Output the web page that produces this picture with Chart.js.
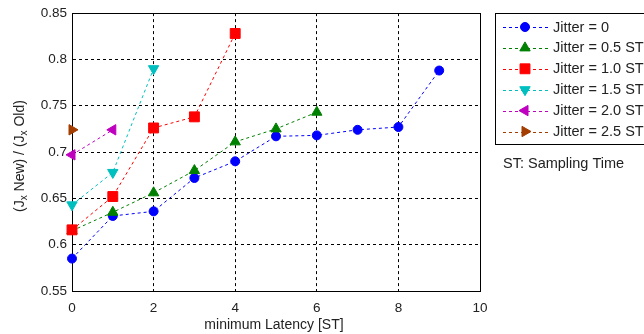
<!DOCTYPE html>
<html>
<head>
<meta charset="utf-8">
<script src="https://cdn.jsdelivr.net/npm/chart.js@4.4.0/dist/chart.umd.min.js"></script>
<style>
  html, body { margin: 0; padding: 0; background: #fff; }
  #wrap { width: 644px; height: 334px; position: relative; }
</style>
</head>
<body>
<div id="wrap"><canvas id="chart"></canvas></div>
<script>
// ---------------- DATA ----------------
const latency = [0, 1, 2, 3, 4, 5, 6, 7, 8, 9];
const jitter0  = [0.585, 0.631, 0.636, 0.672, 0.690, 0.717, 0.718, 0.724, 0.727, 0.788];
const jitter05 = [0.615, 0.635, 0.656, 0.680, 0.711, 0.725, 0.743];
const jitter10 = [0.616, 0.652, 0.726, 0.738, 0.828];
const jitter15 = [0.643, 0.678, 0.790];
const jitter20 = [0.697, 0.724];
const jitter25 = [0.724];
const seriesLabels = ['Jitter = 0', 'Jitter = 0.5 ST', 'Jitter = 1.0 ST', 'Jitter = 1.5 ST', 'Jitter = 2.0 ST', 'Jitter = 2.5 ST'];
const xTicks = [0, 2, 4, 6, 8, 10];
const yTicks = [0.55, 0.6, 0.65, 0.7, 0.75, 0.8, 0.85];
const xTitle = 'minimum Latency [ST]';
const note = 'ST: Sampling Time';

const FONT = '"Liberation Sans", Arial, sans-serif';

// marker / colour per series
const styles = [
  { color: '#0000ff', point: 'circle',   radius: 4.5, rot: 0 },
  { color: '#008000', point: 'triangle', radius: 6,   rot: 0 },
  { color: '#ff0000', point: 'rect',     radius: 7,   rot: 0 },
  { color: '#00bfbf', point: 'triangle', radius: 6,   rot: 180 },
  { color: '#bf00bf', point: 'triangle', radius: 6,   rot: -90 },
  { color: '#a33d00', point: 'triangle', radius: 6,   rot: 90 }
];

const allSeries = [jitter0, jitter05, jitter10, jitter15, jitter20, jitter25];

const datasets = allSeries.map((vals, i) => ({
  label: seriesLabels[i],
  data: vals.map((v, k) => ({ x: latency[k], y: v })),
  borderColor: styles[i].color,
  backgroundColor: styles[i].color,
  borderWidth: 1,
  borderDash: [3, 3],
  pointStyle: styles[i].point,
  pointRadius: styles[i].radius,
  pointRotation: styles[i].rot,
  pointBorderWidth: 1,
  tension: 0,
  clip: false,
  order: allSeries.length - i // later series on top
}));

// ---------------- PLUGINS ----------------
const framePlugin = {
  id: 'frame',
  beforeDatasetsDraw(chart) {
    const { ctx, chartArea: a } = chart;
    ctx.save();
    ctx.strokeStyle = '#000';
    ctx.lineWidth = 1;
    ctx.setLineDash([]);
    ctx.strokeRect(Math.round(a.left) + 0.5, Math.round(a.top) + 0.5,
      Math.round(a.right - a.left), Math.round(a.bottom - a.top));
    ctx.restore();
  },
  afterDraw(chart) {
    const { ctx, chartArea: a } = chart;
    ctx.save();
    // x title
    ctx.fillStyle = '#222';
    ctx.font = '14px ' + FONT;
    ctx.textAlign = 'center';
    ctx.textBaseline = 'middle';
    ctx.fillText(xTitle, (a.left + a.right) / 2 - 2, 325);

    // y title with subscripts, rotated
    const parts = [
      ['(J', 0], ['x', 1], [' New) / (J', 0], ['x', 1], [' Old)', 0]
    ];
    const big = '14px ' + FONT, small = '10px ' + FONT;
    let total = 0;
    parts.forEach(p => { ctx.font = p[1] ? small : big; total += ctx.measureText(p[0]).width; });
    ctx.translate(20, (a.top + a.bottom) / 2 + 4);
    ctx.rotate(-Math.PI / 2);
    ctx.textAlign = 'left';
    ctx.textBaseline = 'middle';
    let x = -total / 2;
    parts.forEach(p => {
      ctx.font = p[1] ? small : big;
      ctx.fillText(p[0], x, p[1] ? 4 : 0);
      x += ctx.measureText(p[0]).width;
    });
    ctx.restore();
  }
};

const legendPlugin = {
  id: 'sideLegend',
  afterDraw(chart) {
    const { ctx } = chart;
    ctx.save();
    ctx.fillStyle = '#fff';
    ctx.fillRect(495.5, 13.5, 160, 131);
    ctx.strokeStyle = '#000';
    ctx.lineWidth = 1;
    ctx.strokeRect(495.5, 13.5, 160, 131);
    ctx.font = '14.5px ' + FONT;
    ctx.textBaseline = 'middle';
    ctx.textAlign = 'left';
    seriesLabels.forEach((lab, i) => {
      const y = 27 + i * 20.9;
      const st = styles[i];
      ctx.strokeStyle = st.color;
      ctx.setLineDash([3, 3]);
      ctx.beginPath();
      ctx.moveTo(503, Math.round(y) + 0.5);
      ctx.lineTo(548, Math.round(y) + 0.5);
      ctx.stroke();
      ctx.setLineDash([]);
      ctx.fillStyle = st.color;
      Chart.helpers.drawPoint(ctx, {
        pointStyle: st.point, rotation: st.rot, radius: st.radius, borderWidth: 1
      }, 525, y);
      ctx.fillStyle = '#222';
      ctx.fillText(lab, 553, y + 0.5);
    });
    ctx.fillStyle = '#222';
    ctx.fillText(note, 503, 164);
    ctx.restore();
  }
};

// ---------------- CHART ----------------
new Chart(document.getElementById('chart'), {
  type: 'line',
  data: { datasets },
  options: {
    responsive: true,
    maintainAspectRatio: false,
    animation: false,
    layout: { padding: { top: 13, right: 164, bottom: 0, left: 0 } },
    plugins: { legend: { display: false }, tooltip: { enabled: false } },
    scales: {
      x: {
        type: 'linear',
        min: 0, max: 10,
        afterBuildTicks: s => { s.ticks = xTicks.map(v => ({ value: v })); },
        afterFit: s => { s.height = 43; },
        grid: { color: '#000', lineWidth: 1, drawTicks: false },
        border: { display: true, color: '#000', width: 1, dash: [3, 3] },
        ticks: { color: '#222', font: { family: FONT, size: 13.5 }, padding: 9, maxRotation: 0 }
      },
      y: {
        min: 0.55, max: 0.85,
        afterBuildTicks: s => { s.ticks = yTicks.map(v => ({ value: v })); },
        afterFit: s => { s.width = 72; },
        grid: { color: '#000', lineWidth: 1, drawTicks: false },
        border: { display: true, color: '#000', width: 1, dash: [3, 3] },
        ticks: {
          color: '#222', font: { family: FONT, size: 13.5 }, padding: 5,
          callback: v => String(Number(v.toFixed(2)))
        }
      }
    }
  },
  plugins: [framePlugin, legendPlugin]
});
</script>
</body>
</html>
